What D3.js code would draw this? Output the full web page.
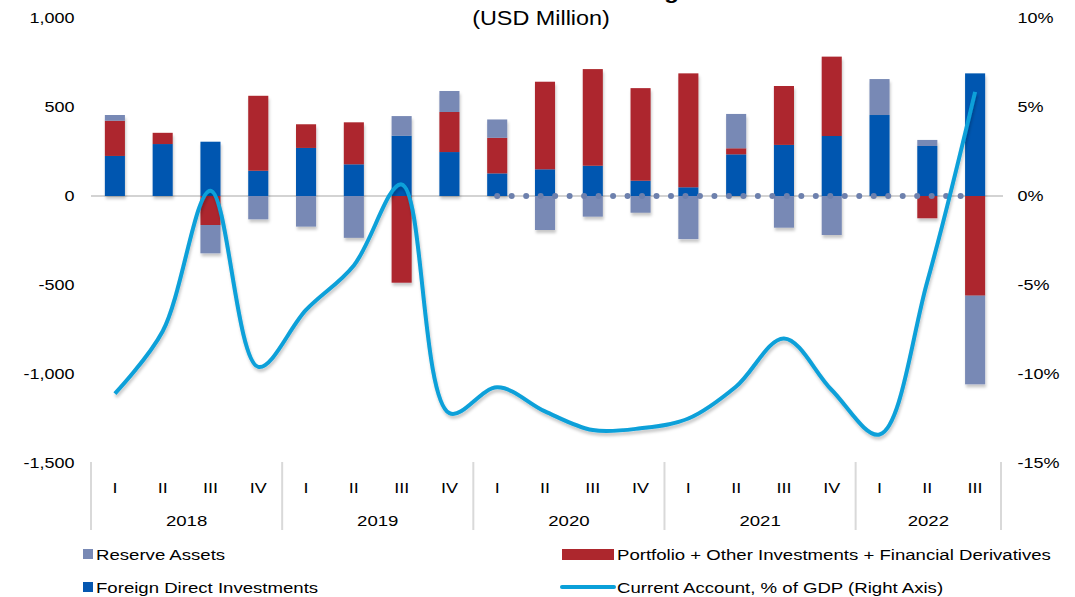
<!DOCTYPE html>
<html>
<head>
<meta charset="utf-8">
<script src="https://cdn.jsdelivr.net/npm/d3@7"></script>
<style>
  body { margin: 0; background: #fff; }
  svg { display: block; font-family: "Liberation Sans", Arial, sans-serif; }
</style>
</head>
<body>
<div id="chart"></div>
<script>
// quarters 2018 I .. 2022 III
const years = ["2018", "2019", "2020", "2021", "2022"];
const quarterNames = ["I", "II", "III", "IV"];
const quarters = [];
years.forEach(function(y) {
    quarterNames.forEach(function(q) {
        if (!(y === "2022" && q === "IV")) quarters.push(y + "-" + q);
    });
});

// USD million
const fdi       = [225, 292, 305, 142, 270, 178, 339, 247, 127, 150, 170, 86, 49, 234, 287, 337, 455, 281, 689];
const portfolio = [198, 63, -163, 421, 133, 236, -487, 225, 200, 492, 543, 520, 640, 34, 331, 446, 0, -125, -560];
const reserves  = [32, 0, -159, -131, -172, -235, 110, 118, 103, -191, -116, -94, -242, 193, -178, -219, 202, 34, -498];
// % of GDP, right axis
const currentAccount = [-11.1, -7.6, 0.3, -9.6, -6.4, -3.9, 0.65, -12.2, -10.75, -12.1, -13.15, -13.05, -12.5, -10.7, -8.0, -10.9, -13.4, -4.8, 5.85];
// dotted zero series, 2020 I .. 2022 III
const zeroDots = [0, 0, 0, 0, 0, 0, 0, 0, 0, 0, 0];

const leftTicks = [-1500, -1000, -500, 0, 500, 1000];
const rightTicks = [-15, -10, -5, 0, 5, 10];

const colors = { fdi: "#0557b0", portfolio: "#ad272d", reserves: "#7889b5", line: "#0aa0d9", dots: "#6d80ad" };

const width = 1075, height = 597;
const sx = 1.2; // text is drawn a bit wide in the reference

const svg = d3.select("#chart").append("svg")
    .attr("width", width)
    .attr("height", height);

const defs = svg.append("defs");
defs.append("filter").attr("id", "shadow")
    .attr("x", "-50%").attr("y", "-20%").attr("width", "200%").attr("height", "140%")
    .append("feDropShadow")
    .attr("dx", 1).attr("dy", 3).attr("stdDeviation", 1.8)
    .attr("flood-color", "#000").attr("flood-opacity", 0.22);

const x = d3.scaleBand().domain(quarters).range([91, 999]).paddingInner(0.58).paddingOuter(0.29);
const yL = d3.scaleLinear().domain([-1500, 1000]).range([463, 18]);
const yR = d3.scaleLinear().domain([-15, 10]).range([463, 18]);

// title (cut off at the top in the reference)
svg.append("text")
    .attr("transform", "translate(542,-1) scale(" + sx + ",1)")
    .attr("text-anchor", "middle")
    .attr("font-size", 20).attr("font-weight", "bold").attr("fill", "#000")
    .text("Financial Account and Financing Sources");
svg.append("text")
    .attr("transform", "translate(541,25) scale(" + sx + ",1)")
    .attr("text-anchor", "middle")
    .attr("font-size", 19.5).attr("fill", "#000")
    .text("(USD Million)");

// zero line
svg.append("line")
    .attr("x1", 91).attr("x2", 1003)
    .attr("y1", yL(0)).attr("y2", yL(0))
    .attr("stroke", "#d3d3d3").attr("stroke-width", 2);

// stacked bars
const rows = quarters.map(function(q, i) {
    return { q: q, fdi: fdi[i], portfolio: portfolio[i], reserves: reserves[i] };
});
const keys = ["fdi", "portfolio", "reserves"];
const series = d3.stack().keys(keys).offset(d3.stackOffsetDiverging)(rows);

const barG = svg.append("g").attr("filter", "url(#shadow)");
series.forEach(function(s) {
    barG.append("g")
        .attr("fill", colors[s.key])
        .selectAll("rect")
        .data(s)
        .join("rect")
        .attr("x", function(d) { return x(d.data.q); })
        .attr("width", x.bandwidth())
        .attr("y", function(d) { return yL(Math.max(d[0], d[1])); })
        .attr("height", function(d) { return Math.abs(yL(d[0]) - yL(d[1])); });
});

// dotted zero series
const dotQuarters = quarters.slice(8);
const dotLine = d3.line()
    .x(function(d, i) { return x(dotQuarters[i]) + x.bandwidth() / 2; })
    .y(function(d) { return yR(d); });
const dotLen = x(dotQuarters[dotQuarters.length - 1]) - x(dotQuarters[0]);
svg.append("path")
    .attr("d", dotLine(zeroDots))
    .attr("fill", "none")
    .attr("stroke", colors.dots)
    .attr("stroke-width", 6)
    .attr("stroke-linecap", "round")
    .attr("stroke-dasharray", "0 " + (dotLen / 33));

// current account line
const caLine = d3.line()
    .x(function(d, i) { return x(quarters[i]) + x.bandwidth() / 2; })
    .y(function(d) { return yR(d); })
    .curve(d3.curveCatmullRom.alpha(0.5));
svg.append("path")
    .attr("d", caLine(currentAccount))
    .attr("fill", "none")
    .attr("stroke", colors.line)
    .attr("stroke-width", 4)
    .attr("stroke-linejoin", "round")
    .attr("filter", "url(#shadow)");

// axes
function styleAxis(g) {
    g.select(".domain").remove();
    g.selectAll(".tick line").remove();
    g.selectAll("text")
        .attr("font-size", 15)
        .attr("fill", "#000")
        .attr("font-family", "'Liberation Sans', Arial, sans-serif");
}

const commaFmt = d3.format(",");

svg.append("g")
    .attr("transform", "translate(84,0)")
    .call(d3.axisLeft(yL).tickValues(leftTicks).tickSize(0).tickPadding(8)
        .tickFormat(function(d) { return commaFmt(d).replace("\u2212", "-"); }))
    .call(styleAxis)
    .selectAll("text").attr("transform", "scale(" + sx + ",1)");

svg.append("g")
    .attr("transform", "translate(1008,0)")
    .call(d3.axisRight(yR).tickValues(rightTicks).tickSize(0).tickPadding(8)
        .tickFormat(function(d) { return String(d).replace("\u2212", "-") + "%"; }))
    .call(styleAxis)
    .selectAll("text").attr("transform", "scale(" + sx + ",1)");

const xAxisG = svg.append("g")
    .attr("transform", "translate(0,474)")
    .call(d3.axisBottom(x).tickSize(0).tickPadding(8).tickFormat(function(d) { return d.split("-")[1]; }))
    .call(styleAxis);
xAxisG.selectAll(".tick text").each(function() {
    const t = d3.select(this);
    t.attr("transform", "translate(0," + t.attr("y") + ") scale(" + sx + ",1)").attr("y", 0);
});

// year separators and labels
const yearStarts = years.map(function(y) { return x(y + "-I") - x.step() * x.paddingInner() / 2; });
const sepX = yearStarts.concat([x.range()[1] + 2]);
svg.append("g").selectAll("line")
    .data(sepX)
    .join("line")
    .attr("x1", function(d) { return d; }).attr("x2", function(d) { return d; })
    .attr("y1", 462).attr("y2", 530)
    .attr("stroke", "#d9d9d9").attr("stroke-width", 2);

svg.append("g").selectAll("text")
    .data(years)
    .join("text")
    .attr("transform", function(d, i) { return "translate(" + ((sepX[i] + sepX[i + 1]) / 2) + ",526) scale(" + sx + ",1)"; })
    .attr("text-anchor", "middle")
    .attr("font-size", 15.5).attr("fill", "#000")
    .text(function(d) { return d; });

// legend
const legend = svg.append("g");
const legendItems = [
    { label: "Reserve Assets", kind: "square", color: colors.reserves, x: 83, y: 554 },
    { label: "Foreign Direct Investments", kind: "square", color: colors.fdi, x: 83, y: 587 },
    { label: "Portfolio + Other Investments + Financial Derivatives", kind: "rect", color: colors.portfolio, x: 562, y: 554 },
    { label: "Current Account, % of GDP (Right Axis)", kind: "line", color: colors.line, x: 562, y: 587 }
];
legendItems.forEach(function(d) {
    let tx;
    if (d.kind === "square") {
        legend.append("rect").attr("x", d.x).attr("y", d.y - 5).attr("width", 10).attr("height", 10).attr("fill", d.color);
        tx = d.x + 13;
    } else if (d.kind === "rect") {
        legend.append("rect").attr("x", d.x).attr("y", d.y - 5).attr("width", 52).attr("height", 11).attr("fill", d.color);
        tx = d.x + 55;
    } else {
        legend.append("line").attr("x1", d.x).attr("x2", d.x + 52).attr("y1", d.y).attr("y2", d.y)
            .attr("stroke", d.color).attr("stroke-width", 4).attr("stroke-linecap", "round");
        tx = d.x + 55;
    }
    legend.append("text")
        .attr("transform", "translate(" + tx + "," + (d.y + 6) + ") scale(" + sx + ",1)")
        .attr("font-size", 15.5).attr("fill", "#000")
        .text(d.label);
});
</script>
</body>
</html>
